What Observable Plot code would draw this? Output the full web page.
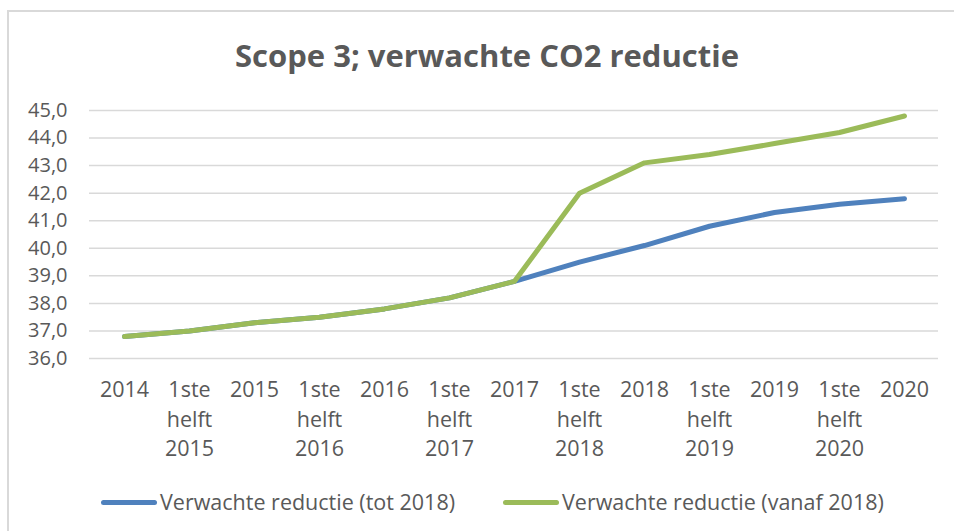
<!DOCTYPE html>
<html>
<head>
<meta charset="utf-8">
<script src="https://cdn.jsdelivr.net/npm/d3@7"></script>
<script src="https://cdn.jsdelivr.net/npm/@observablehq/plot@0.6"></script>
<style>
  html, body { margin: 0; padding: 0; background: #fff; overflow: hidden; }
  body { width: 954px; height: 531px; position: relative; font-family: "Open Sans", sans-serif; color: #595959; }
  #frame { position: absolute; left: 7px; top: 10px; width: 980px; height: 560px; border: 2px solid #d9d9d9; box-sizing: border-box; }
  #title { position: absolute; left: 0; width: 974px; top: 33px; text-align: center; font-size: 31px; font-weight: 700; color: #595959; line-height: 44px; }
  #chart { position: absolute; left: 0; top: 90px; }
  .legend { position: absolute; top: 488px; display: flex; align-items: center; font-size: 21.5px; color: #595959; white-space: nowrap; line-height: 28px; }
  .sw { display: inline-block; width: 56px; height: 5px; border-radius: 3px; margin-right: 3px; }
</style>
</head>
<body>
<div id="frame"></div>
<div id="title">Scope 3; verwachte CO2 reductie</div>
<div id="chart"></div>
<div class="legend" id="leg1" style="left:101px"><span class="sw" style="background:#4f81bd"></span><span>Verwachte reductie (tot 2018)</span></div>
<div class="legend" id="leg2" style="left:503px"><span class="sw" style="background:#9bbb59"></span><span>Verwachte reductie (vanaf 2018)</span></div>
<script>
const categories = ["2014", "1ste\nhelft\n2015", "2015", "1ste\nhelft\n2016", "2016", "1ste\nhelft\n2017", "2017", "1ste\nhelft\n2018", "2018", "1ste\nhelft\n2019", "2019", "1ste\nhelft\n2020", "2020"];
const totValues   = [36.8, 37.0, 37.3, 37.5, 37.8, 38.2, 38.8, 39.5, 40.1, 40.8, 41.3, 41.6, 41.8];
const vanafValues = [36.8, 37.0, 37.3, 37.5, 37.8, 38.2, 38.8, 42.0, 43.1, 43.4, 43.8, 44.2, 44.8];
const yTicks = [36, 37, 38, 39, 40, 41, 42, 43, 44, 45];
const seriesNames = ["Verwachte reductie (tot 2018)", "Verwachte reductie (vanaf 2018)"];
const seriesColors = ["#4f81bd", "#9bbb59"];

const rows = [];
categories.forEach((c, i) => rows.push({cat: c, value: totValues[i], series: seriesNames[0]}));
categories.forEach((c, i) => rows.push({cat: c, value: vanafValues[i], series: seriesNames[1]}));

const chart = Plot.plot({
  width: 954,
  height: 380,
  marginLeft: 89,
  marginRight: 16,
  marginTop: 20,
  marginBottom: 112,
  style: {fontFamily: "Open Sans, sans-serif", fontSize: "20px", color: "#595959", background: "transparent"},
  x: {type: "point", domain: categories, padding: 0.5, label: null},
  y: {domain: [36, 45], label: null},
  color: {domain: seriesNames, range: seriesColors},
  marks: [
    Plot.gridY(yTicks, {stroke: "#d9d9d9", strokeOpacity: 1, strokeWidth: 1.5}),
    Plot.axisY(yTicks, {tickSize: 0, tickPadding: 22, tickFormat: d => d.toFixed(1).replace(".", ","), fill: "#595959", fontSize: 20, label: null}),
    Plot.axisX({tickSize: 0, tickPadding: 18, fill: "#595959", fontSize: 21.5, lineHeight: 1.36, label: null}),
    Plot.line(rows, {x: "cat", y: "value", z: "series", stroke: "series", strokeWidth: 5, strokeLinecap: "round", strokeLinejoin: "round"})
  ]
});
document.getElementById("chart").appendChild(chart);
</script>
</body>
</html>
